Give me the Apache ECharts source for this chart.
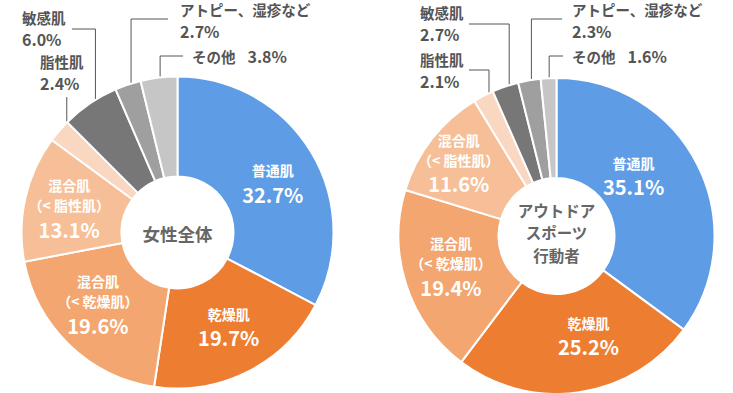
<!DOCTYPE html>
<html><head><meta charset="utf-8">
<script src="https://cdn.jsdelivr.net/npm/echarts@6/dist/echarts.min.js"></script>
<style>html,body{margin:0;padding:0;background:#fff}#c{width:733px;height:393px}</style>
</head><body><div id="c"></div>
<script>
// ---- data ----
const categories = ['普通肌', '乾燥肌', '混合肌\n（< 乾燥肌）', '混合肌\n（< 脂性肌）', '脂性肌', '敏感肌', 'アトピー、湿疹など', 'その他'];
const womenAll = [32.7, 19.7, 19.6, 13.1, 2.4, 6.0, 2.7, 3.8];
const outdoorSports = [35.1, 25.2, 19.4, 11.6, 2.1, 2.7, 2.3, 1.6];
const centerTitles = ['女性全体', 'アウトドア\nスポーツ\n行動者'];

// ---- styles / layout ----
const colors = ['#5e9de6', '#ed7d31', '#f3a66f', '#f6bf98', '#f9d7c1', '#777777', '#9f9f9f', '#c6c6c6'];
const FONT = '"Noto Sans CJK JP", "Noto Sans", sans-serif';
const TXT = '#555555';
const singleLine = { 7: true };

const pies = [
  {
    center: [177.5, 232.5], radius: [56, 156], values: womenAll, title: centerTitles[0], titleY: 233, titleSize: 17.5,
    inside: { 0: [2, 8], 1: [2, -2], 2: [-4, -6], 3: [-2, 1] },
    outside: {
      4: { ey: 97, ex: null, lx: 40, ly: 72.5 },
      5: { ey: 29, ex: 72, lx: 22, ly: 28 },
      6: { ey: 19, ex: 168, lx: 180, ly: 20 },
      7: { ey: 56, ex: 183, lx: 192, ly: 56 }
    }
  },
  {
    center: [556.5, 236], radius: [58, 158], values: outdoorSports, title: centerTitles[1], titleY: 232, titleSize: 15.5,
    inside: { 0: [-22, -9], 1: [16, -9], 2: [0, -3], 3: [-10, -4] },
    outside: {
      4: { ey: 70, ex: 469, lx: 420, ly: 70.5 },
      5: { ey: 24, ex: 469, lx: 420, ly: 23.5 },
      6: { ey: 19, ex: 562, lx: 572, ly: 20 },
      7: { ey: 56, ex: 563, lx: 572, ly: 56 }
    }
  }
];

function midAngle(values, i) {
  const total = values.reduce((a, b) => a + b, 0);
  let cum = 0;
  for (let k = 0; k < i; k++) cum += values[k];
  return (cum + values[i] / 2) / total * Math.PI * 2; // clockwise from top
}

const chart = echarts.init(document.getElementById('c'), null, { renderer: 'svg' });

const series = pies.map((p, si) => ({
  type: 'pie',
  center: p.center,
  radius: p.radius,
  startAngle: 90,
  clockwise: true,
  avoidLabelOverlap: false,
  minShowLabelAngle: 0,
  animation: false,
  itemStyle: { borderColor: '#fff', borderWidth: 2 },
  label: {
    show: true,
    position: 'inside',
    fontFamily: FONT,
    formatter: (prm) => {
      const i = prm.dataIndex;
      const v = Number(prm.value).toFixed(1) + '%';
      if (p.outside[i]) {
        if (singleLine[i]) return '{on|' + prm.name + '}\u3000{op|' + v + '}';
        return '{on|' + prm.name + '}\n{op|' + v + '}';
      }
      return '{n|' + prm.name + '}\n{p|' + v + '}';
    },
    rich: {
      n: { color: '#fff', fontFamily: FONT, fontWeight: 'bold', fontSize: 14, lineHeight: 20, align: 'center' },
      p: { color: '#fff', fontFamily: FONT, fontWeight: 'bold', fontSize: 20, lineHeight: 28, align: 'center' },
      on: { color: TXT, fontFamily: FONT, fontWeight: 'bold', fontSize: 14.5, lineHeight: 21 },
      op: { color: TXT, fontFamily: FONT, fontWeight: 'bold', fontSize: 16, lineHeight: 22 }
    }
  },
  labelLine: { show: false },
  labelLayout: (prm) => {
    const i = prm.dataIndex;
    const o = p.outside[i];
    if (o) {
      const a = midAngle(p.values, i);
      const r = 146;
      const sx = p.center[0] + r * Math.sin(a);
      const sy = p.center[1] - r * Math.cos(a);
      const pts = o.ex === null
        ? [[sx, sy], [sx, o.ey], [sx, o.ey]]
        : [[sx, sy], [sx, o.ey], [o.ex, o.ey]];
      return { x: o.lx, y: o.ly, align: 'left', verticalAlign: 'middle', labelLinePoints: pts };
    }
    const d = p.inside[i] || [0, 0];
    return { dx: d[0], dy: d[1] };
  },
  data: categories.map((name, i) => {
    const item = { name: name, value: p.values[i], itemStyle: { color: colors[i] } };
    if (p.outside[i]) {
      item.label = { position: 'outside' };
      item.labelLine = { show: true, length: 10, length2: 10, lineStyle: { color: TXT, width: 1 } };
    }
    return item;
  })
}));

const graphic = pies.map(p => ({
  type: 'text',
  x: p.center[0],
  y: p.titleY,
  silent: true,
  style: {
    text: p.title,
    fill: '#666666',
    font: 'bold ' + p.titleSize + 'px ' + FONT,
    align: 'center', verticalAlign: 'middle',
    textAlign: 'center', textVerticalAlign: 'middle',
    lineHeight: 22.5
  }
}));

chart.setOption({
  animation: false,
  backgroundColor: '#ffffff',
  series: series,
  graphic: graphic
});
</script>
</body></html>
